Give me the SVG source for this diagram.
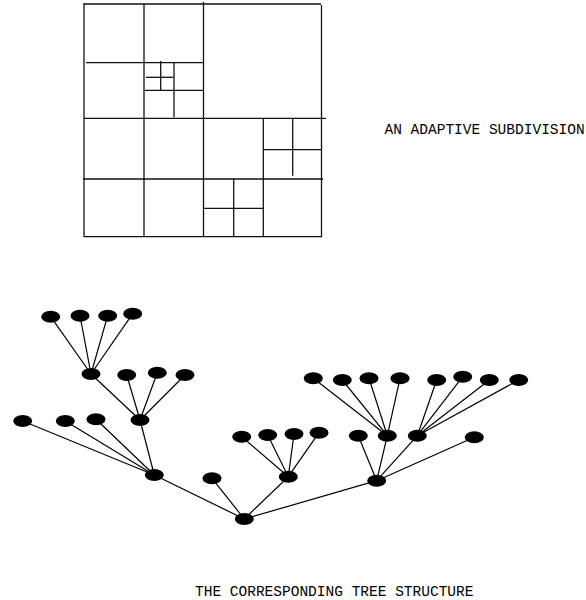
<svg xmlns="http://www.w3.org/2000/svg" width="586" height="600" viewBox="0 0 586 600">
<style>
.g line{stroke:#111;stroke-width:1.3;fill:none}
.e line{stroke:#000;stroke-width:1.2}
.n ellipse{fill:#000}
.t{font-family:"Liberation Mono","Courier New",monospace;font-size:14.5px;fill:#000}
</style>
<rect width="586" height="600" fill="#fff"/>
<g id="subdivision" class="g">
<line x1="84" y1="3" x2="84" y2="237"/>
<line x1="84" y1="4" x2="321" y2="4"/>
<line x1="144" y1="4" x2="144" y2="237"/>
<line x1="203.5" y1="2" x2="203.5" y2="237"/>
<line x1="321.5" y1="5" x2="321.5" y2="237"/>
<line x1="86" y1="62.7" x2="204" y2="62.7"/>
<line x1="84" y1="118.3" x2="326" y2="118.3"/>
<line x1="83" y1="179" x2="323" y2="179"/>
<line x1="84" y1="236.7" x2="322" y2="236.7"/>
<line x1="174" y1="62.7" x2="174" y2="117.3"/>
<line x1="144.7" y1="90.3" x2="203.3" y2="90.3"/>
<line x1="160.7" y1="61" x2="160.7" y2="90.3"/>
<line x1="146" y1="77.3" x2="173.3" y2="77.3"/>
<line x1="263.3" y1="118" x2="263.3" y2="237"/>
<line x1="292.7" y1="118" x2="292.7" y2="175.7"/>
<line x1="263" y1="149.7" x2="321.7" y2="149.7"/>
<line x1="233.7" y1="179" x2="233.7" y2="237"/>
<line x1="204.3" y1="208.3" x2="263.3" y2="208.3"/>
</g>
<text class="t" x="384.5" y="133.5">AN ADAPTIVE SUBDIVISION</text>
<g id="edges" class="e">
<line x1="91" y1="374" x2="50.7" y2="316.7"/>
<line x1="91" y1="374" x2="80" y2="315.7"/>
<line x1="91" y1="374" x2="107.7" y2="315.7"/>
<line x1="91" y1="374" x2="132.7" y2="313.7"/>
<line x1="140" y1="420" x2="91" y2="374"/>
<line x1="140" y1="420" x2="126.7" y2="375"/>
<line x1="140" y1="420" x2="157.3" y2="372.7"/>
<line x1="140" y1="420" x2="185" y2="375"/>
<line x1="154.3" y1="475" x2="140" y2="420"/>
<line x1="154.3" y1="475" x2="22.7" y2="421"/>
<line x1="154.3" y1="475" x2="65.3" y2="421"/>
<line x1="154.3" y1="475" x2="96" y2="419.3"/>
<line x1="244.3" y1="519" x2="154.3" y2="475"/>
<line x1="244.3" y1="519" x2="212" y2="478.3"/>
<line x1="244.3" y1="519" x2="288.3" y2="476.7"/>
<line x1="244.3" y1="519" x2="376.7" y2="480.7"/>
<line x1="288.3" y1="476.7" x2="241.7" y2="436.7"/>
<line x1="288.3" y1="476.7" x2="267.7" y2="435"/>
<line x1="288.3" y1="476.7" x2="294" y2="434"/>
<line x1="288.3" y1="476.7" x2="319" y2="432.7"/>
<line x1="376.7" y1="480.7" x2="358.3" y2="435.7"/>
<line x1="376.7" y1="480.7" x2="387.3" y2="435.7"/>
<line x1="376.7" y1="480.7" x2="417.3" y2="435.7"/>
<line x1="376.7" y1="480.7" x2="474.3" y2="437.3"/>
<line x1="387.3" y1="435.7" x2="313.3" y2="378.3"/>
<line x1="387.3" y1="435.7" x2="342.3" y2="380"/>
<line x1="387.3" y1="435.7" x2="369" y2="378.3"/>
<line x1="387.3" y1="435.7" x2="400" y2="378.3"/>
<line x1="417.3" y1="435.7" x2="436.7" y2="380"/>
<line x1="417.3" y1="435.7" x2="462.7" y2="376.7"/>
<line x1="417.3" y1="435.7" x2="489.3" y2="380"/>
<line x1="417.3" y1="435.7" x2="518.7" y2="380"/>
</g>
<g class="n">
<g id="n1"><ellipse cx="50.7" cy="316.7" rx="9.5" ry="6"/></g>
<g id="n2"><ellipse cx="80" cy="315.7" rx="9.5" ry="6"/></g>
<g id="n3"><ellipse cx="107.7" cy="315.7" rx="9.5" ry="6"/></g>
<g id="n4"><ellipse cx="132.7" cy="313.7" rx="9.5" ry="6"/></g>
<g id="n5"><ellipse cx="91" cy="374" rx="9.5" ry="6"/></g>
<g id="n6"><ellipse cx="126.7" cy="375" rx="9.5" ry="6"/></g>
<g id="n7"><ellipse cx="157.3" cy="372.7" rx="9.5" ry="6"/></g>
<g id="n8"><ellipse cx="185" cy="375" rx="9.5" ry="6"/></g>
<g id="n9"><ellipse cx="140" cy="420" rx="9.5" ry="6"/></g>
<g id="n10"><ellipse cx="22.7" cy="421" rx="9.5" ry="6"/></g>
<g id="n11"><ellipse cx="65.3" cy="421" rx="9.5" ry="6"/></g>
<g id="n12"><ellipse cx="96" cy="419.3" rx="9.5" ry="6"/></g>
<g id="n13"><ellipse cx="154.3" cy="475" rx="9.5" ry="6"/></g>
<g id="n14"><ellipse cx="212" cy="478.3" rx="9.5" ry="6"/></g>
<g id="n15"><ellipse cx="244.3" cy="519" rx="9.5" ry="6"/></g>
<g id="n16"><ellipse cx="241.7" cy="436.7" rx="9.5" ry="6"/></g>
<g id="n17"><ellipse cx="267.7" cy="435" rx="9.5" ry="6"/></g>
<g id="n18"><ellipse cx="294" cy="434" rx="9.5" ry="6"/></g>
<g id="n19"><ellipse cx="319" cy="432.7" rx="9.5" ry="6"/></g>
<g id="n20"><ellipse cx="288.3" cy="476.7" rx="9.5" ry="6"/></g>
<g id="n21"><ellipse cx="376.7" cy="480.7" rx="9.5" ry="6"/></g>
<g id="n22"><ellipse cx="358.3" cy="435.7" rx="9.5" ry="6"/></g>
<g id="n23"><ellipse cx="387.3" cy="435.7" rx="9.5" ry="6"/></g>
<g id="n24"><ellipse cx="417.3" cy="435.7" rx="9.5" ry="6"/></g>
<g id="n25"><ellipse cx="474.3" cy="437.3" rx="9.5" ry="6"/></g>
<g id="n26"><ellipse cx="313.3" cy="378.3" rx="9.5" ry="6"/></g>
<g id="n27"><ellipse cx="342.3" cy="380" rx="9.5" ry="6"/></g>
<g id="n28"><ellipse cx="369" cy="378.3" rx="9.5" ry="6"/></g>
<g id="n29"><ellipse cx="400" cy="378.3" rx="9.5" ry="6"/></g>
<g id="n30"><ellipse cx="436.7" cy="380" rx="9.5" ry="6"/></g>
<g id="n31"><ellipse cx="462.7" cy="376.7" rx="9.5" ry="6"/></g>
<g id="n32"><ellipse cx="489.3" cy="380" rx="9.5" ry="6"/></g>
<g id="n33"><ellipse cx="518.7" cy="380" rx="9.5" ry="6"/></g>
</g>
<text class="t" x="195" y="595.5">THE CORRESPONDING TREE STRUCTURE</text>
</svg>
